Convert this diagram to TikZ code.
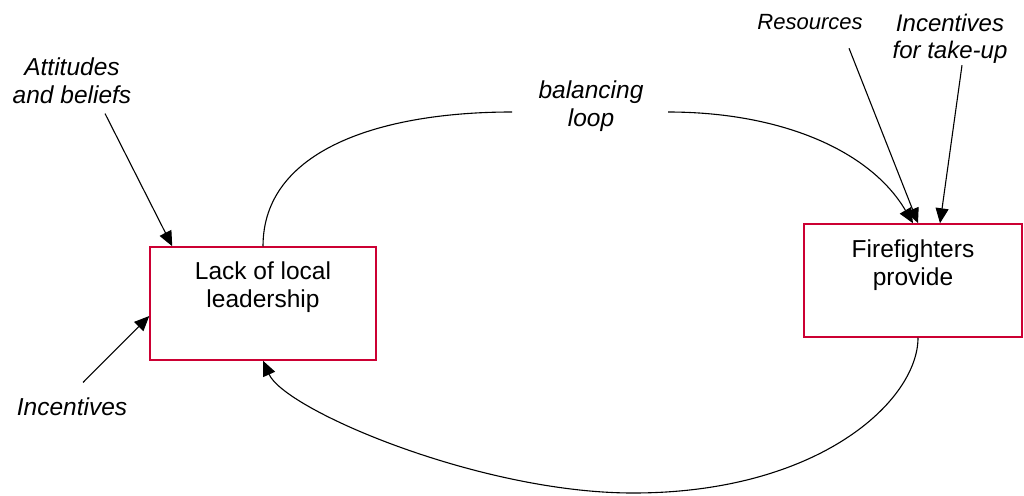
\documentclass[tikz,border=0pt]{standalone}
\usepackage{fontspec}
\setmainfont{Liberation Sans}
\usetikzlibrary{arrows.meta,calc}
\definecolor{boxred}{RGB}{204,0,51}
\tikzset{
  box/.style={draw=boxred, line width=1.5pt, fill=white, inner sep=0pt},
  boxtext/.style={font=\fontsize{24.5pt}{28pt}\selectfont, align=center, anchor=north},
  lbl/.style={font=\fontsize{24.5pt}{28pt}\selectfont\itshape, align=center},
  conn/.style={line width=1.1pt, -{Triangle[length=15pt,width=13pt]}},
}
\begin{document}
\begin{tikzpicture}[x=1pt,y=-1pt]
\useasboundingbox (0,0) rectangle (1024,495);
% boxes
\node[box, minimum width=226pt, minimum height=113pt,
  label={[boxtext, yshift=-12pt]north:Lack of local\\leadership}] (lack) at (263,303.5) {};
\node[box, minimum width=218pt, minimum height=113pt,
  label={[boxtext, yshift=-13pt]north:Firefighters\\provide}] (fire) at (913,280.5) {};
% labels
\node[lbl] (att) at (72,81) {Attitudes\\and beliefs};
\node[lbl] (incl) at (72,407) {Incentives};
\node[lbl] (bal) at (591,106) {balancing\\loop};
\node[lbl, font=\fontsize{22pt}{26pt}\selectfont\itshape] (res) at (810,22) {Resources};
\node[lbl, font=\fontsize{24pt}{27pt}\selectfont\itshape] (inct) at (950,39) {Incentives\\for take-up};
% coordinates at the gap of the loop
\coordinate (gapL) at (512,112);
\coordinate (gapR) at (668,112);
% inputs
\draw[conn] ($(att.south)+(33,6)$) -- ($(lack.north west)+(23,0)$);
\draw[conn] ($(incl.north)+(11,-12)$) -- ($(lack.west)+(0,12.5)$);
\draw[conn] ($(res.south)+(39,15)$) -- ($(fire.north)+(5,0)$);
\draw[conn] ($(inct.south)+(12,-2)$) -- ($(fire.north)+(27,0)$);
% top loop
\draw[line width=1.1pt] (lack.north) .. controls (263,150) and (380,112) .. (gapL);
\draw[conn] (gapR) .. controls (780,112) and (870,150) .. (fire.north);
% bottom loop
\draw[conn] ($(fire.south)+(5,0)$) .. controls (918,400) and (820,493) .. (633,493)
  .. controls (480,493) and (285,410) .. (lack.south);
\end{tikzpicture}
\end{document}
